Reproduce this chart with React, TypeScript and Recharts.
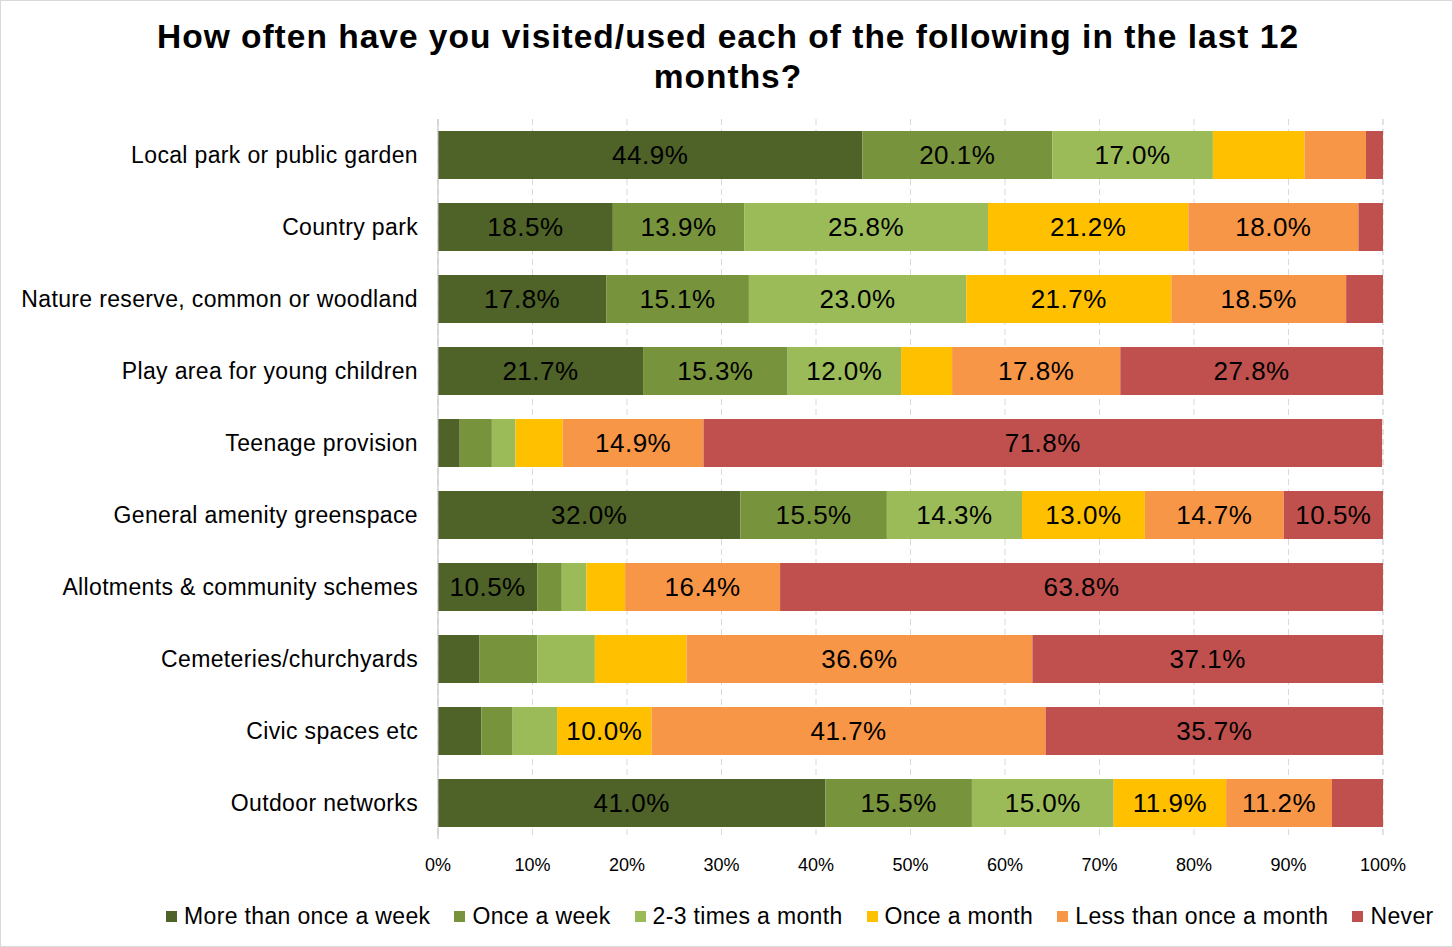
import { BarChart, Bar, XAxis, YAxis, CartesianGrid, LabelList } from 'recharts'

const categories = [
  'Local park or public garden',
  'Country park',
  'Nature reserve, common or woodland',
  'Play area for young children',
  'Teenage provision',
  'General amenity greenspace',
  'Allotments & community schemes',
  'Cemeteries/churchyards',
  'Civic spaces etc',
  'Outdoor networks',
]

const moreThanWeekly = [44.9, 18.5, 17.8, 21.7, 2.3, 32.0, 10.5, 4.4, 4.6, 41.0]
const onceWeek = [20.1, 13.9, 15.1, 15.3, 3.4, 15.5, 2.6, 6.1, 3.3, 15.5]
const twoThreeMonth = [17.0, 25.8, 23.0, 12.0, 2.5, 14.3, 2.6, 6.1, 4.7, 15.0]
const onceMonth = [9.7, 21.2, 21.7, 5.4, 5.0, 13.0, 4.1, 9.7, 10.0, 11.9]
const lessThanMonthly = [6.5, 18.0, 18.5, 17.8, 14.9, 14.7, 16.4, 36.6, 41.7, 11.2]
const never = [1.8, 2.6, 3.9, 27.8, 71.8, 10.5, 63.8, 37.1, 35.7, 5.4]

const xTicks = [0, 10, 20, 30, 40, 50, 60, 70, 80, 90, 100]

const series = [
  { key: 'more', name: 'More than once a week', color: '#4F6228', values: moreThanWeekly },
  { key: 'week', name: 'Once a week', color: '#77933C', values: onceWeek },
  { key: 'twothree', name: '2-3 times a month', color: '#9BBB59', values: twoThreeMonth },
  { key: 'month', name: 'Once a month', color: '#FFC000', values: onceMonth },
  { key: 'less', name: 'Less than once a month', color: '#F79646', values: lessThanMonthly },
  { key: 'never', name: 'Never', color: '#C0504D', values: never },
]

const data = categories.map((name, i) => {
  const row: { [key: string]: string | number } = { name }
  series.forEach((s) => {
    row[s.key] = s.values[i]
  })
  return row
})

const font = '"Liberation Sans", Arial, sans-serif'

export default function App() {
  // only segments of 10% or more get a label, like the original
  const labelFormatter = (v: any) => (typeof v === 'number' && v >= 10 ? `${v.toFixed(1)}%` : '')

  return (
    <div
      style={{
        position: 'absolute',
        left: 0,
        top: 0,
        width: 1453,
        height: 947,
        background: '#fff',
        fontFamily: font,
      }}
    >
      <div
        style={{
          position: 'absolute',
          inset: 0,
          border: '1px solid #D9D9D9',
          pointerEvents: 'none',
        }}
      />
      <div
        style={{
          position: 'absolute',
          left: 0,
          top: 17,
          width: 1456,
          textAlign: 'center',
          fontWeight: 'bold',
          fontSize: 33.5,
          letterSpacing: '1px',
          lineHeight: '40px',
          color: '#000',
        }}
      >
        How often have you visited/used each of the following in the last 12
        <br />
        months?
      </div>
      <BarChart
        width={1453}
        height={947}
        data={data}
        layout="vertical"
        margin={{ top: 119, right: 70, bottom: 78, left: 0 }}
        barSize={48}
      >
        <CartesianGrid horizontal={false} stroke="#D9D9D9" strokeDasharray="6 4" />
        <XAxis
          type="number"
          domain={[0, 100]}
          ticks={xTicks}
          tickFormatter={(v: number) => `${v}%`}
          axisLine={false}
          tickLine={false}
          tickMargin={13}
          height={30}
          tick={{ fontSize: 18, fill: '#000', fontFamily: font }}
        />
        <YAxis
          type="category"
          dataKey="name"
          width={438}
          axisLine={{ stroke: '#BFBFBF' }}
          tickLine={false}
          tickMargin={14}
          interval={0}
          tick={{ fontSize: 23, fill: '#000', fontFamily: font, letterSpacing: '0.35px' }}
        />
        {series.map((s) => (
          <Bar key={s.key} dataKey={s.key} name={s.name} stackId="a" fill={s.color} isAnimationActive={false}>
            <LabelList
              dataKey={s.key}
              position="center"
              formatter={labelFormatter}
              fill="#000"
              fontSize={26}
              fontFamily={font}
              style={{ letterSpacing: '0.5px' }}
            />
          </Bar>
        ))}
      </BarChart>
      <div
        style={{
          position: 'absolute',
          left: 166,
          top: 903,
          display: 'flex',
          alignItems: 'center',
          gap: 24,
          fontSize: 23,
          letterSpacing: '0.35px',
          color: '#000',
          whiteSpace: 'nowrap',
        }}
      >
        {series.map((s) => (
          <div key={s.key} style={{ display: 'flex', alignItems: 'center' }}>
            <span style={{ display: 'inline-block', width: 11, height: 11, background: s.color, marginRight: 7 }} />
            <span>{s.name}</span>
          </div>
        ))}
      </div>
    </div>
  )
}
